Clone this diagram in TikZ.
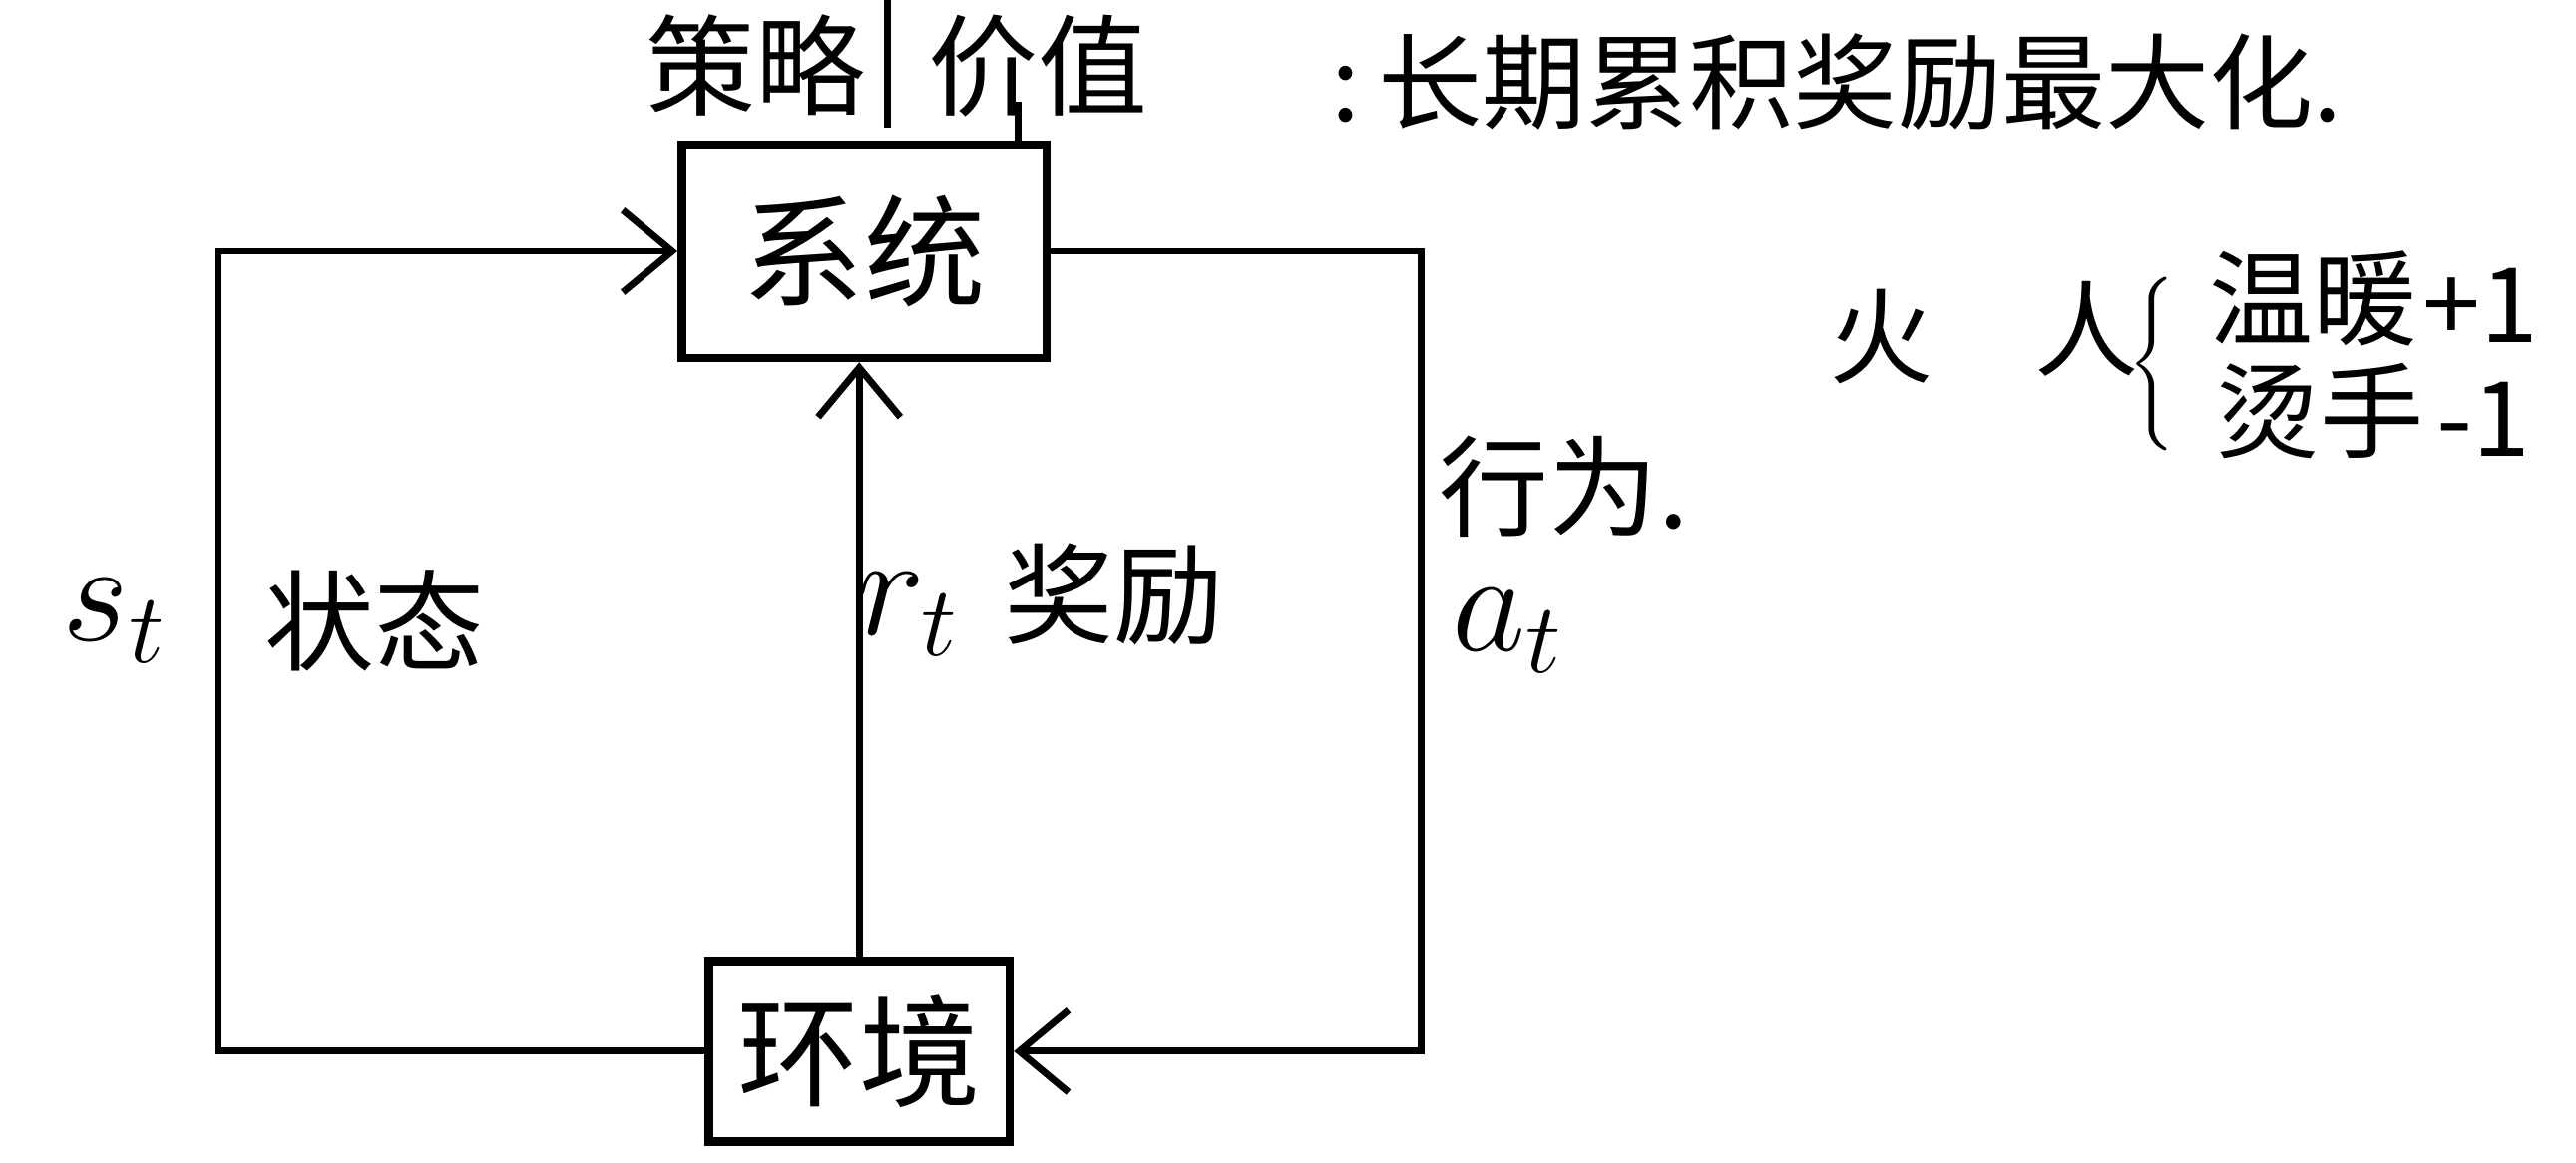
\documentclass[tikz,border=0pt]{standalone}
\usepackage{fontspec}
\setmainfont{Noto Sans CJK SC}
\usetikzlibrary{arrows.meta,positioning}
\tikzset{
  blockbox/.style={draw,line width=1.5pt,inner sep=1pt,font=\fontsize{21}{24}\selectfont},
  flow/.style={line width=1.2pt,-{Straight Barb[length=3mm,width=5mm,line width=1.2pt]}},
  plainline/.style={line width=1.2pt},
  lbl/.style={inner sep=0pt,font=\fontsize{19}{22}\selectfont},
  mathlbl/.style={inner sep=0pt,font=\fontsize{24}{28}\selectfont},
  notelbl/.style={inner sep=0pt,font=\fontsize{18}{22}\selectfont}
}

\begin{document}
\begin{tikzpicture}[x=0.1mm,y=-0.1mm]
        \useasboundingbox (0,0) rectangle (1568,708);
        % boxes
        \node[blockbox,minimum width=22.2mm,minimum height=13mm] (sys) at (526,153) {系统};
        \node[blockbox,minimum width=18.3mm,minimum height=11mm] (env) at (523,640) {环境};
        % top notes
        \node[lbl] (policy) at (460,40) {策略};
        \node[lbl] (value) at (632,40) {价值};
        \node[notelbl,anchor=west] (goal) at (810,50) {:\,长期累积奖励最大化.};
        \coordinate (divtop) at (540,0);
        \coordinate (divbot) at (540,78);
        \coordinate (vfoot) at (620,62);
        \draw[plainline] (divtop) -- (divbot);
        \draw[plainline] (vfoot) -- (vfoot |- sys.north);
        % loops
        \coordinate (sleft) at (133,400);
        \coordinate (aright) at (865,400);
        \draw[flow] (env.west) -| (sleft) |- (sys.west);
        \draw[flow] (sys.east) -| (aright) |- (env.east);
        \draw[flow] (env.north) -- (env.north |- sys.south);
        % loop labels
        \node[mathlbl] (st) at (70,378) {$s_t$};
        \node[lbl] (state) at (228,378) {状态};
        \node[mathlbl] (rt) at (553,374) {$r_t$};
        \node[lbl] (reward) at (678,362) {奖励};
        \node[lbl] (act) at (952,296) {行为.};
        \node[mathlbl] (at) at (918,384) {$a_t$};
        % fire example
        \node[notelbl] (fire) at (1145,205) {火};
        \node[notelbl] (man) at (1270,200) {人};
        \node[inner sep=0pt] (brace) at (1312,220) {$\left\{\rule{0pt}{6.5mm}\right.$};
        \node[notelbl] (warm) at (1408,182) {温暖};
        \node[notelbl] (plus) at (1510,186) {+1};
        \node[notelbl] (hot) at (1412,250) {烫手};
        \node[notelbl] (minus) at (1512,255) {-1};
      \end{tikzpicture}
\end{document}
